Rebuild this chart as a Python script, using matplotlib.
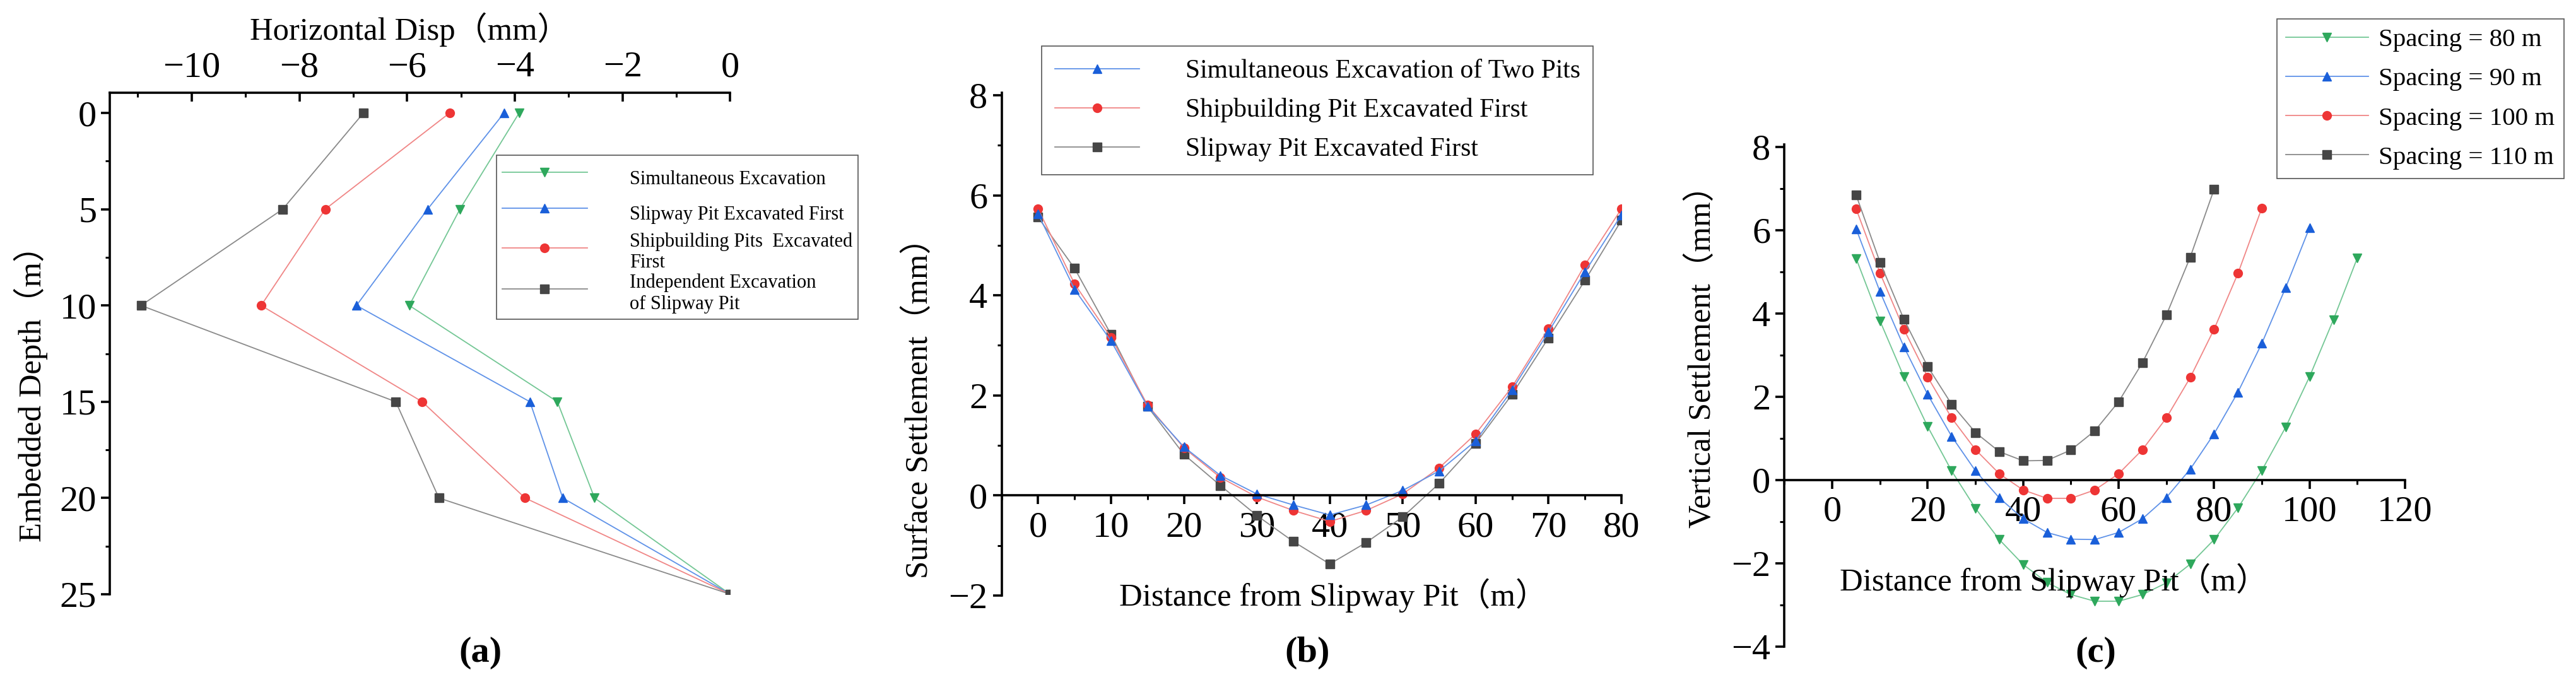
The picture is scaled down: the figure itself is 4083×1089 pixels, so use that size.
import matplotlib
matplotlib.use("Agg")
import matplotlib.pyplot as plt
from matplotlib.ticker import MultipleLocator

# ---------------- data ----------------
# (a) horizontal displacement vs embedded depth
depth_a = [0, 5, 10, 15, 20, 25]
disp_simul = [-3.92, -5.02, -5.96, -3.21, -2.52, 0.0]
disp_slipway_first = [-4.20, -5.62, -6.94, -3.72, -3.11, 0.0]
disp_ship_first = [-5.21, -7.52, -8.71, -5.72, -3.81, 0.0]
disp_independent = [-6.81, -8.31, -10.94, -6.21, -5.41, 0.0]
labels_a = ["Simultaneous Excavation", "Slipway Pit Excavated First",
            "Shipbuilding Pits  Excavated\nFirst",
            "Independent Excavation\nof Slipway Pit"]

# (b) surface settlement vs distance
dist_b = [0, 5, 10, 15, 20, 25, 30, 35, 40, 45, 50, 55, 60, 65, 70, 75, 80]
settle_two = [5.63, 4.12, 3.09, 1.78, 0.97, 0.40, 0.03, -0.19, -0.39, -0.19,
              0.10, 0.49, 1.09, 2.11, 3.27, 4.47, 5.61]
settle_ship = [5.73, 4.23, 3.16, 1.81, 0.95, 0.36, -0.03, -0.30, -0.52, -0.30,
               0.03, 0.55, 1.23, 2.17, 3.34, 4.61, 5.73]
settle_slip = [5.56, 4.54, 3.22, 1.78, 0.82, 0.20, -0.40, -0.92, -1.37, -0.94,
               -0.43, 0.24, 1.04, 2.02, 3.15, 4.30, 5.50]
labels_b = ["Simultaneous Excavation of Two Pits",
            "Shipbuilding Pit Excavated First",
            "Slipway Pit Excavated First"]

# (c) vertical settlement for different spacings
dist_80 = [5, 10, 15, 20, 25, 30, 35, 40, 45, 50, 55, 60, 65, 70, 75, 80,
           85, 90, 95, 100, 105, 110]
vs_80 = [5.32, 3.82, 2.48, 1.28, 0.22, -0.68, -1.43, -2.03, -2.46, -2.75,
         -2.91, -2.91, -2.75, -2.47, -2.02, -1.43, -0.67, 0.23, 1.27, 2.48,
         3.85, 5.33]
dist_90 = [5, 10, 15, 20, 25, 30, 35, 40, 45, 50, 55, 60, 65, 70, 75, 80,
           85, 90, 95, 100]
vs_90 = [6.03, 4.52, 3.20, 2.05, 1.05, 0.22, -0.43, -0.93, -1.26, -1.42,
         -1.43, -1.26, -0.93, -0.42, 0.26, 1.11, 2.11, 3.28, 4.62, 6.06]
dist_100 = [5, 10, 15, 20, 25, 30, 35, 40, 45, 50, 55, 60, 65, 70, 75, 80,
            85, 90]
vs_100 = [6.51, 4.97, 3.62, 2.47, 1.49, 0.73, 0.15, -0.24, -0.44, -0.44,
          -0.24, 0.15, 0.73, 1.49, 2.46, 3.62, 4.96, 6.53]
dist_110 = [5, 10, 15, 20, 25, 30, 35, 40, 45, 50, 55, 60, 65, 70, 75, 80]
vs_110 = [6.84, 5.23, 3.86, 2.72, 1.82, 1.14, 0.68, 0.46, 0.47, 0.72, 1.18,
          1.88, 2.82, 3.96, 5.35, 6.98]
labels_c = ["Spacing = 80 m", "Spacing = 90 m", "Spacing = 100 m",
            "Spacing = 110 m"]

# ---------------- style ----------------
SERIF = ["Liberation Serif", "Noto Sans CJK SC", "DejaVu Sans"]
plt.rcParams["font.family"] = "serif"
plt.rcParams["font.serif"] = ["Liberation Serif"]
plt.rcParams["axes.unicode_minus"] = True

GREEN = dict(color="#74c795", marker="v", mfc="#2ea85c", mec="#2ea85c")
BLUE = dict(color="#5f92e8", marker="^", mfc="#1a5fd9", mec="#1a5fd9")
RED = dict(color="#f08686", marker="o", mfc="#ee3535", mec="#ee3535")
GRAY = dict(color="#8a8a8a", marker="s", mfc="#464646", mec="#464646")
LW = 1.3
MS = 10

TICK_FS = 42
LABEL_FS = 36.5
SPINE_W = 2.6

fig = plt.figure(figsize=(40.83, 10.89), dpi=100)


def style_ticks(ax, xdir, ydir):
    ax.tick_params(axis="both", which="major", length=10, width=SPINE_W,
                   labelsize=TICK_FS, color="black",
                   labelfontfamily="Liberation Serif")
    ax.tick_params(axis="both", which="minor", length=5, width=2.2,
                   color="black")
    ax.tick_params(axis="x", which="both", direction=xdir)
    ax.tick_params(axis="y", which="both", direction=ydir)


# ---------------- (a) ----------------
axa = fig.add_axes([0.04262, 0.13499, 0.24087, 0.73003])
ha1, = axa.plot(disp_simul, depth_a, lw=LW, ms=MS, **GREEN)
ha2, = axa.plot(disp_slipway_first, depth_a, lw=LW, ms=MS, **BLUE)
ha3, = axa.plot(disp_ship_first, depth_a, lw=LW, ms=MS, **RED)
ha4, = axa.plot(disp_independent, depth_a, lw=LW, ms=MS, **GRAY)
axa.set_xlim(-11.52, 0)
axa.set_ylim(25, -1.05)
axa.xaxis.tick_top()
axa.spines["bottom"].set_visible(False)
axa.spines["right"].set_visible(False)
axa.spines["top"].set_linewidth(SPINE_W)
axa.spines["left"].set_linewidth(SPINE_W)
axa.xaxis.set_major_locator(MultipleLocator(2))
axa.xaxis.set_minor_locator(MultipleLocator(1))
axa.yaxis.set_major_locator(MultipleLocator(5))
axa.yaxis.set_minor_locator(MultipleLocator(2.5))
style_ticks(axa, "in", "out")
axa.tick_params(axis="x", which="both", top=True, bottom=False)
axa.tick_params(axis="x", which="major", pad=10)
axa.tick_params(axis="y", which="major", pad=5)
axa.text(0.483, 1.126, "Horizontal Disp（mm）", transform=axa.transAxes,
         ha="center", va="center", fontsize=LABEL_FS, family=SERIF)
axa.text(-0.127, 0.416, "Embedded Depth（m）", transform=axa.transAxes,
         ha="center", va="center", rotation=90, fontsize=LABEL_FS,
         family=SERIF)
leg_a = axa.legend([ha1, ha2, ha3, ha4], labels_a, loc="upper left",
                   bbox_to_anchor=(0.19275, 0.77410),
                   bbox_transform=fig.transFigure, borderaxespad=0,
                   prop=dict(family="Liberation Serif", size=22),
                   handlelength=4.4, handleheight=2.35, handletextpad=2.2,
                   labelspacing=0.08, borderpad=0.3, fancybox=False,
                   framealpha=1, edgecolor="#555555")
leg_a.get_frame().set_linewidth(1.2)

# ---------------- (b) ----------------
axb = fig.add_axes([0.38883, 0.13315, 0.24061, 0.73186])
hb3, = axb.plot(dist_b, settle_slip, lw=LW, ms=MS, **GRAY)
hb2, = axb.plot(dist_b, settle_ship, lw=LW, ms=MS, **RED)
hb1, = axb.plot(dist_b, settle_two, lw=LW, ms=MS, **BLUE)
axb.set_xlim(-5, 80)
axb.set_ylim(-2, 8.05)
axb.spines["top"].set_visible(False)
axb.spines["right"].set_visible(False)
axb.spines["bottom"].set_position(("data", 0))
axb.spines["bottom"].set_linewidth(SPINE_W)
axb.spines["left"].set_linewidth(SPINE_W)
axb.xaxis.set_major_locator(MultipleLocator(10))
axb.xaxis.set_minor_locator(MultipleLocator(5))
axb.yaxis.set_major_locator(MultipleLocator(2))
axb.yaxis.set_minor_locator(MultipleLocator(1))
style_ticks(axb, "out", "out")
axb.tick_params(axis="x", which="major", pad=8)
axb.tick_params(axis="y", which="major", pad=6)
axb.text(0.535, 0.0, "Distance from Slipway Pit（m）", transform=axb.transAxes,
         ha="center", va="center", fontsize=LABEL_FS, family=SERIF)
axb.text(-0.133, 0.388, "Surface Settlement（mm）", transform=axb.transAxes,
         ha="center", va="center", rotation=90, fontsize=LABEL_FS,
         family=SERIF)
leg_b = axb.legend([hb1, hb2, hb3], labels_b, loc="upper left",
                   bbox_to_anchor=(0.40448, 0.93297),
                   bbox_transform=fig.transFigure, borderaxespad=0,
                   prop=dict(family="Liberation Serif", size=30),
                   handlelength=3.2, handletextpad=1.75, labelspacing=0.55,
                   borderpad=0.5, fancybox=False, framealpha=1,
                   edgecolor="#555555")
leg_b.get_frame().set_linewidth(1.2)

# ---------------- (c) ----------------
axc = fig.add_axes([0.69275, 0.05877, 0.24088, 0.73067])
hc1, = axc.plot(dist_80, vs_80, lw=LW, ms=MS, **GREEN)
hc2, = axc.plot(dist_90, vs_90, lw=LW, ms=MS, **BLUE)
hc3, = axc.plot(dist_100, vs_100, lw=LW, ms=MS, **RED)
hc4, = axc.plot(dist_110, vs_110, lw=LW, ms=MS, **GRAY)
axc.set_xlim(-10, 120)
axc.set_ylim(-4, 8.05)
axc.spines["top"].set_visible(False)
axc.spines["right"].set_visible(False)
axc.spines["bottom"].set_position(("data", 0))
axc.spines["bottom"].set_linewidth(SPINE_W)
axc.spines["left"].set_linewidth(SPINE_W)
axc.xaxis.set_major_locator(MultipleLocator(20))
axc.xaxis.set_minor_locator(MultipleLocator(10))
axc.yaxis.set_major_locator(MultipleLocator(2))
axc.yaxis.set_minor_locator(MultipleLocator(1))
style_ticks(axc, "out", "out")
axc.tick_params(axis="x", which="major", pad=8)
axc.tick_params(axis="y", which="major", pad=6)
axc.text(0.434, 0.132, "Distance from Slipway Pit（m）", transform=axc.transAxes,
         ha="center", va="center", fontsize=LABEL_FS, family=SERIF)
axc.text(-0.133, 0.593, "Vertical Settlement（mm）", transform=axc.transAxes,
         ha="center", va="center", rotation=90, fontsize=LABEL_FS,
         family=SERIF)
leg_c = axc.legend([hc1, hc2, hc3, hc4], labels_c, loc="upper left",
                   bbox_to_anchor=(0.88381, 0.97245),
                   bbox_transform=fig.transFigure, borderaxespad=0,
                   prop=dict(family="Liberation Serif", size=29.5),
                   handlelength=3.2, handletextpad=0.4, labelspacing=0.6,
                   borderpad=0.35, fancybox=False, framealpha=1,
                   edgecolor="#555555")
leg_c.get_frame().set_linewidth(1.2)

# ---------------- panel letters ----------------
for xf, letter in [(0.1866, "(a)"), (0.5075, "(b)"), (0.8135, "(c)")]:
    fig.text(xf, 0.0496, letter, ha="center", va="center", fontsize=42,
             fontweight="bold", family="Liberation Serif")

fig.savefig("out.png", dpi=100)
